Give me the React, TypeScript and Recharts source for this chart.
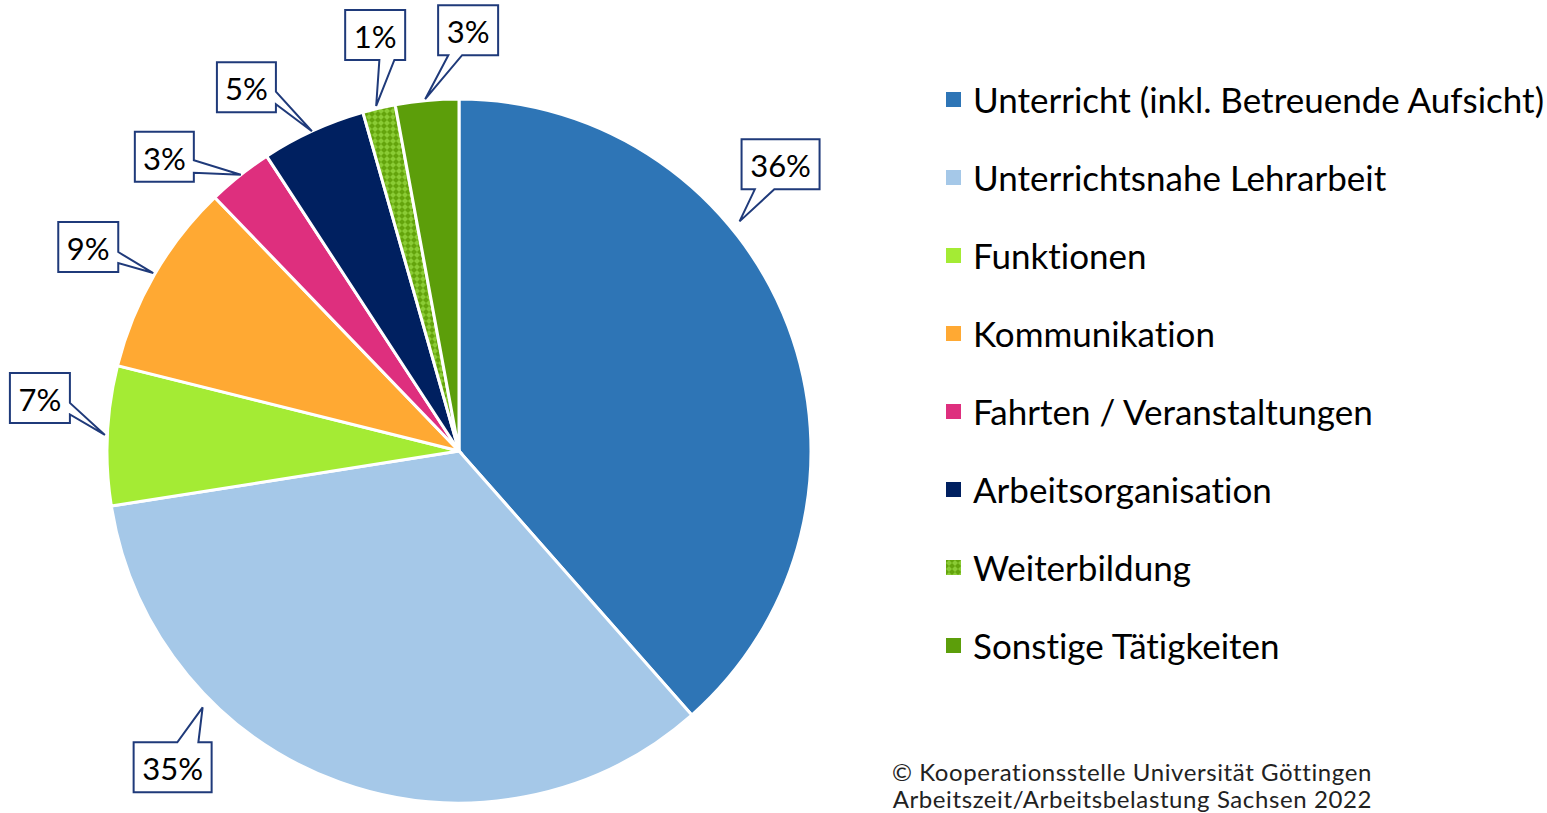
import React from "react";
import { PieChart, Pie, Cell, Legend } from "recharts";

// Slice shares (clockwise from 12 o'clock)
const categories = [
  "Unterricht (inkl. Betreuende Aufsicht)",
  "Unterrichtsnahe Lehrarbeit",
  "Funktionen",
  "Kommunikation",
  "Fahrten / Veranstaltungen",
  "Arbeitsorganisation",
  "Weiterbildung",
  "Sonstige Tätigkeiten",
];
const shares = [38.5, 34.0, 6.4, 8.9, 3.0, 4.8, 1.5, 2.9];
// printed callout texts
const percentLabels = ["36%", "35%", "7%", "9%", "3%", "5%", "1%", "3%"];

const colors = [
  "#2E75B6",
  "#A5C8E8",
  "#A4EB34",
  "#FFA933",
  "#DE2F7E",
  "#002060",
  "url(#weiterbildungPattern)",
  "#5C9E0A",
];

const FONT = "Lato, 'Open Sans', sans-serif";
const BORDER = "#1F3A7A";
const BOX_H = 50;

// callout layout: tip in polar coords (deg clockwise from top, radius factor),
// box offset from tip, wedge side and base fractions
const callouts = [
  { angle: 50.7, r: 1.03, dx: 2, dy: -82, w: 78, side: "bottom", b0: 0.17, b1: 0.42 },
  { angle: 225, r: 1.03, dx: -69, dy: 35, w: 78, side: "top", b0: 0.56, b1: 0.83 },
  { angle: 272.6, r: 1.007, dx: -95, dy: -62, w: 60, side: "right", b0: 0.6, b1: 0.83 },
  { angle: 300.2, r: 1.005, dx: -95, dy: -51, w: 60, side: "right", b0: 0.6, b1: 0.82 },
  { angle: 321.7, r: 1.0, dx: -106, dy: -43, w: 59, side: "right", b0: 0.57, b1: 0.82 },
  { angle: 335.3, r: 1.0, dx: -95, dy: -69, w: 59, side: "right", b0: 0.59, b1: 0.84 },
  { angle: 346.5, r: 1.008, dx: -31, dy: -96, w: 60, side: "bottom", b0: 0.57, b1: 0.82 },
  { angle: 354.5, r: 1.004, dx: 13, dy: -94, w: 60, side: "bottom", b0: 0.17, b1: 0.4 },
];

const data = categories.map((name, i) => ({ name, value: shares[i] }));

function calloutPath(x0: number, y0: number, w: number, h: number, tx: number, ty: number, side: string, b0: number, b1: number) {
  const x1 = x0 + w;
  const y1 = y0 + h;
  const p: string[] = [`M${x0},${y0}`];
  if (side === "top") p.push(`L${x0 + b0 * w},${y0}`, `L${tx},${ty}`, `L${x0 + b1 * w},${y0}`);
  p.push(`L${x1},${y0}`);
  if (side === "right") p.push(`L${x1},${y0 + b0 * h}`, `L${tx},${ty}`, `L${x1},${y0 + b1 * h}`);
  p.push(`L${x1},${y1}`);
  if (side === "bottom") p.push(`L${x0 + b1 * w},${y1}`, `L${tx},${ty}`, `L${x0 + b0 * w},${y1}`);
  p.push(`L${x0},${y1}`);
  if (side === "left") p.push(`L${x0},${y0 + b1 * h}`, `L${tx},${ty}`, `L${x0},${y0 + b0 * h}`);
  p.push("Z");
  return p.join(" ");
}

const renderCallout = (props: any) => {
  const { cx, cy, outerRadius, index } = props;
  const c = callouts[index];
  const rad = (c.angle * Math.PI) / 180;
  const tx = cx + outerRadius * c.r * Math.sin(rad);
  const ty = cy - outerRadius * c.r * Math.cos(rad);
  const x0 = tx + c.dx;
  const y0 = ty + c.dy;
  return (
    <g key={`callout-${index}`}>
      <path
        d={calloutPath(x0, y0, c.w, BOX_H, tx, ty, c.side, c.b0, c.b1)}
        fill="#fff"
        stroke={BORDER}
        strokeWidth={2}
        strokeLinejoin="miter"
      />
      <text
        x={x0 + c.w / 2}
        y={y0 + BOX_H / 2 + 1}
        textAnchor="middle"
        dominantBaseline="central"
        fontFamily={FONT}
        fontSize={31}
        fill="#000"
      >
        {percentLabels[index]}
      </text>
    </g>
  );
};

const renderLegend = () => (
  <div style={{ fontFamily: FONT, fontVariantLigatures: "none" }}>
    {categories.map((name, i) => (
      <div
        key={name}
        style={{ display: "flex", alignItems: "center", height: 78, whiteSpace: "nowrap" }}
      >
        <svg width={15} height={15} style={{ marginRight: 12, flex: "none" }}>
          <rect x={0} y={0} width={15} height={15} fill={colors[i]} />
        </svg>
        <span style={{ fontSize: 35, color: "#000" }}>{name}</span>
      </div>
    ))}
  </div>
);

export default function App() {
  return (
    <div style={{ position: "absolute", left: 0, top: 0, width: 1547, height: 813, background: "#fff" }}>
      <PieChart width={1547} height={813} margin={{ top: 0, right: 0, bottom: 0, left: 0 }}>
        <defs>
          <pattern id="weiterbildungPattern" width={6} height={6} patternUnits="userSpaceOnUse">
            <rect width={6} height={6} fill="#64A40C" />
            <path d="M3,0 L6,3 L3,6 L0,3 Z" fill="#8ACB34" />
          </pattern>
        </defs>
        <Pie
          data={data}
          dataKey="value"
          nameKey="name"
          cx={459}
          cy={451}
          outerRadius={352}
          startAngle={90}
          endAngle={-270}
          stroke="#fff"
          strokeWidth={3}
          label={renderCallout}
          labelLine={false}
          isAnimationActive={false}
        >
          {data.map((d, i) => (
            <Cell key={d.name} fill={colors[i]} />
          ))}
        </Pie>
        <Legend
          layout="vertical"
          align="right"
          verticalAlign="top"
          content={renderLegend}
          wrapperStyle={{ left: 946, top: 60, width: 600 }}
        />
      </PieChart>
      <div
        style={{
          position: "absolute",
          right: 175,
          top: 758,
          textAlign: "right",
          fontFamily: FONT,
          fontVariantLigatures: "none",
          fontSize: 24,
          letterSpacing: 0.6,
          lineHeight: "27px",
          color: "#222",
          whiteSpace: "nowrap",
        }}
      >
        <div>© Kooperationsstelle Universität Göttingen</div>
        <div>Arbeitszeit/Arbeitsbelastung Sachsen 2022</div>
      </div>
    </div>
  );
}
